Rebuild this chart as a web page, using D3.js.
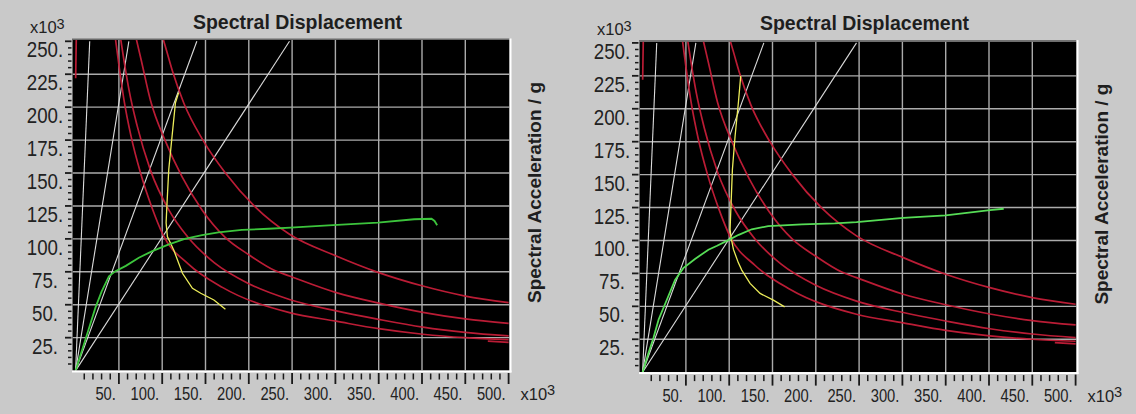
<!DOCTYPE html>
<html><head><meta charset="utf-8">
<script src="https://cdn.jsdelivr.net/npm/d3@7"></script>
<style>body{margin:0;background:#c9c9c9;overflow:hidden} svg{display:block}</style>
</head><body><svg id="c" width="1136" height="414"></svg>
<script>
// ---- data (units x10^3) ----
const xTickValues = [50,100,150,200,250,300,350,400,450,500];
const xTickLabels = ["50.","100.","150.","200.","250.","300.","350.","400.","450.","500."];
const yTickValues = [25,50,75,100,125,150,175,200,225,250];
const yTickLabels = ["25.","50.","75.","100.","125.","150.","175.","200.","225.","250."];
const titleText = "Spectral Displacement";
const yAxisTitle = "Spectral Acceleration / g";

// constant-period radial lines: Sd reached at Sa = 250
const periodLineSd = [16.3, 61.5, 140, 247];

// demand spectra (red), shared by both panels
const demandA = [[101,252],[105,243],[112,227],[125,203],[147,175],[173,150],[207,124.5],[247,103.5],[301,87],[350,74.4],[401,64.2],[450,56.6],[500,51.6]];
const demandB = [[70,252],[76,235],[86.5,205],[103.8,174],[123,147],[146,122],[173,101],[200,88],[230,76],[247,71.8],[301,59.2],[350,51.2],[401,44.2],[450,39.2],[500,35.9]];
const demandC = [[52,252],[56,235],[62,212],[71,186],[86.5,152],[107.6,122],[130,101],[160,82],[200,66],[247,54],[301,45.3],[350,38.9],[401,33],[450,29],[500,26.3]];
const demandD = [[46,252],[50,232],[56,205],[64,178],[75,150],[88,124],[101,103],[130,81],[170,63],[247,44],[301,37.5],[350,31.8],[401,27.6],[450,25],[500,23.5]];
const demandEdge = [[0.1,222],[0.4,236],[0.8,252]];
const demandTail = [[476,22.4],[500,21.5]];

// left panel
const yellowLeft = [[119,211],[115.3,203.4],[111.4,178],[107.6,152.8],[105.6,127.5],[104.5,112.3],[106,101.7],[113.3,91.6],[123.4,73.9],[134.9,62.5],[144.5,58.7],[159.7,53.6],[173,46.5]];
const greenLeft = [[0,0],[12,25],[23,48],[30,60],[38.5,71.5],[46,75.5],[58,79.5],[73,85.7],[88,90.5],[107,95.6],[126,100],[146,102.8],[165,105],[192,106.8],[223,107.7],[248,108.5],[292,110.3],[349,112.3],[391,114.9],[411,115.3],[414.5,113.6],[417.5,110.3]];

// right panel
const yellowRight = [[113.3,225],[110.6,204.6],[106.8,179.3],[103.7,154],[102.2,128.6],[101,108.4],[102.2,102],[104.9,93.2],[110.6,83],[114.5,77.5],[124.1,67.4],[135.7,59.8],[151,54.7],[164,49.6]];
const greenRight = [[0,0],[7,15],[12.5,26],[18.5,40],[28,55],[37.5,70],[47,79],[60.5,86],[76,93],[86,96],[99,100.3],[111,104.3],[126,108.5],[145,110.9],[184,112.2],[222,113],[247,114],[301,117.2],[350,119],[401,123],[417,124.1]];

// ---- drawing ----
const svg = d3.select("#c");
const FONT = "'Liberation Sans', Arial, sans-serif";

function panel(ox, oy, yellow, green, id, greenColor) {
  const g = svg.append("g").attr("transform", `translate(${ox},${oy})`);
  const L = 73, R = 509.5, T = 40, B = 370.5;
  const x = d3.scaleLinear([0, 500], [75.6, 508.6]);
  const y = d3.scaleLinear([0, 250], [370.6, 41.3]);

  g.append("rect").attr("x", L).attr("y", T).attr("width", R - L).attr("height", B - T).attr("fill", "#000");
  g.append("clipPath").attr("id", id).append("rect").attr("x", L).attr("y", T).attr("width", R - L).attr("height", B - T);
  const p = g.append("g").attr("clip-path", `url(#${id})`);

  // grid
  p.selectAll(".gx").data(xTickValues.slice(0, -1)).join("line")
    .attr("x1", d => x(d)).attr("x2", d => x(d)).attr("y1", T).attr("y2", B)
    .attr("stroke", "#ababab").attr("stroke-width", 1.4);
  p.selectAll(".gy").data(yTickValues.slice(0, -1)).join("line")
    .attr("y1", d => y(d)).attr("y2", d => y(d)).attr("x1", L).attr("x2", R)
    .attr("stroke", "#ababab").attr("stroke-width", 1.4);

  // period lines
  p.selectAll(".pl").data(periodLineSd).join("line")
    .attr("x1", x(0)).attr("y1", y(0)).attr("x2", d => x(d)).attr("y2", y(250))
    .attr("stroke", "#dcdcdc").attr("stroke-width", 1.1);

  const line = d3.line().x(d => x(d[0])).y(d => y(d[1]));
  const smooth = d3.line().x(d => x(d[0])).y(d => y(d[1])).curve(d3.curveMonotoneX);

  [demandA, demandB, demandC, demandD, demandEdge, demandTail].forEach(s => {
    p.append("path").attr("d", smooth(s)).attr("fill", "none")
      .attr("stroke", "#c41e38").attr("stroke-width", 1.7).attr("opacity", 0.95);
  });
  p.append("path").attr("d", line(yellow)).attr("fill", "none").attr("stroke", "#eded5a").attr("stroke-width", 1.3);
  p.append("path").attr("d", line(green)).attr("fill", "none").attr("stroke", greenColor).attr("stroke-width", 1.8);

  // frame
  g.append("rect").attr("x", L - 1).attr("y", T - 1.5).attr("width", R - L + 1).attr("height", 1.5).attr("fill", "#6a6a6a");
  g.append("rect").attr("x", L - 1).attr("y", T).attr("width", 1).attr("height", B - T).attr("fill", "#6a6a6a");
  g.append("rect").attr("x", L - 1).attr("y", B).attr("width", R - L + 3).attr("height", 2).attr("fill", "#ffffff");
  g.append("rect").attr("x", R).attr("y", T - 1.5).attr("width", 2).attr("height", B - T + 3.5).attr("fill", "#ffffff");

  // ticks drawn as small rects at scale positions
  const xMinor = d3.range(10, 501, 10).filter(v => v % 50 !== 0);
  const yMinor = d3.range(5, 251, 5).filter(v => v % 25 !== 0);
  const tk = g.append("g");
  tk.selectAll("rect.xm").data(xMinor).join("rect").attr("class", "xm")
    .attr("x", d => x(d) - 0.75).attr("y", B + 3).attr("width", 1.5).attr("height", 6).attr("fill", "#1a1a1a");
  tk.selectAll("rect.xM").data(xTickValues).join("rect").attr("class", "xM")
    .attr("x", d => x(d) - 0.9).attr("y", B + 2.5).attr("width", 1.8).attr("height", 11).attr("fill", "#1a1a1a");
  tk.selectAll("rect.ym").data(yMinor).join("rect").attr("class", "ym")
    .attr("x", L - 5).attr("y", d => y(d) - 0.75).attr("width", 3.5).attr("height", 1.5).attr("fill", "#1a1a1a");
  tk.selectAll("rect.yM").data(yTickValues).join("rect").attr("class", "yM")
    .attr("x", L - 8).attr("y", d => y(d) - 0.9).attr("width", 6.5).attr("height", 1.8).attr("fill", "#1a1a1a");

  // x labels
  g.selectAll("text.xl").data(xTickValues).join("text").attr("class", "xl")
    .attr("transform", d => `translate(${x(d) - 3},${B + 29.5}) scale(0.82,1)`)
    .attr("text-anchor", "end")
    .attr("font-family", FONT).attr("font-size", 18).attr("fill", "#222")
    .text((d, i) => xTickLabels[i]);
  // y labels
  g.selectAll("text.yl").data(yTickValues).join("text").attr("class", "yl")
    .attr("transform", d => `translate(45,${y(d) + 16}) scale(0.85,1)`)
    .attr("text-anchor", "middle")
    .attr("font-family", FONT).attr("font-size", 22).attr("fill", "#222")
    .text((d, i) => yTickLabels[i]);

  // title
  g.append("text").attr("x", 297.5).attr("y", 28.5).attr("text-anchor", "middle")
    .attr("font-family", FONT).attr("font-weight", "bold").attr("font-size", 19.5).attr("fill", "#1e1e1e").text(titleText);
  // right axis title
  g.append("text").attr("transform", "translate(541,192.5) rotate(-90)").attr("text-anchor", "middle")
    .attr("font-family", FONT).attr("font-weight", "bold").attr("font-size", 19).attr("fill", "#1e1e1e").text(yAxisTitle);

  // multipliers
  const m1 = g.append("text").attr("x", 30).attr("y", 33).attr("font-family", FONT).attr("font-size", 16.5).attr("fill", "#222");
  m1.append("tspan").text("x10");
  m1.append("tspan").attr("dy", -4).attr("font-size", 14.5).text("3");
  const m2 = g.append("text").attr("x", 520.5).attr("y", 400).attr("font-family", FONT).attr("font-size", 16.5).attr("fill", "#222");
  m2.append("tspan").text("x10");
  m2.append("tspan").attr("dy", -5).attr("font-size", 14.5).text("3");
}

panel(0, 0, yellowLeft, greenLeft, "clipL", "#3cc43c");
panel(567, 1.6, yellowRight, greenRight, "clipR", "#56dc56");
</script></body></html>
